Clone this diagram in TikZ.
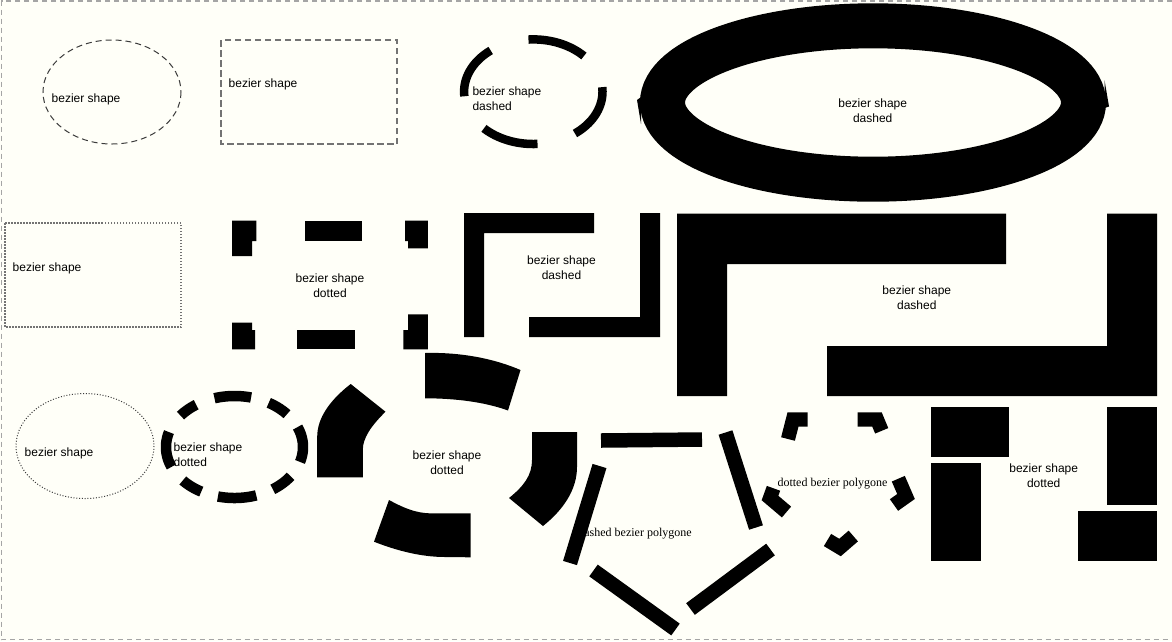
\documentclass[tikz,border=0pt]{standalone}
\usepackage{fontspec}
\setmainfont{Liberation Sans}
\newfontfamily\polyfont{Liberation Serif}
\definecolor{bgc}{RGB}{255,255,248}
\definecolor{bordc}{RGB}{165,165,165}
\definecolor{thinc}{RGB}{60,60,60}
\definecolor{grayc}{RGB}{115,115,115}
\newcommand{\myellarc}[7]{\draw[#1] plot[domain=#6:#7,samples=40,variable=\t]({#2+#4*cos(\t)},{#3+#5*sin(\t)});}
\begin{document}
\begin{tikzpicture}[x=1pt,y=-1pt,
  lbl/.style={font=\fontsize{12}{15}\selectfont,inner sep=0pt},
  plbl/.style={font=\polyfont\fontsize{12}{15}\selectfont,inner sep=0pt},
  ink/.style={fill=black,draw=none},
  dbar/.style={draw=black,line width=14.5,line cap=butt},
  dcorner/.style={draw=black,line width=14.2,line cap=butt,line join=miter},
  arcA/.style={draw=black,line width=8.5,line cap=butt},
  arcB/.style={draw=black,line width=10.5,line cap=butt}]
\useasboundingbox (0,0) rectangle (1172,641);
\fill[bgc] (0,0) rectangle (1172,641);
% page border
\draw[bordc,line width=1.2,dash pattern=on 5 off 4] (1172,1) -- (1.5,1) -- (1.5,639.5) -- (1172,639.5);

% ---------- row 1 ----------
\draw[thinc,line width=1,dash pattern=on 6 off 4] (112,92) ellipse[x radius=69, y radius=52];
\node[lbl,anchor=west] (t1) at (51.5,99.5) {bezier shape};

\draw[grayc,line width=1.6,dash pattern=on 6.5 off 3.5] (221,40) rectangle (397,144);
\node[lbl,anchor=west] (t2) at (228.5,84.5) {bezier shape};

\myellarc{arcA}{533.3}{91.7}{69.2}{52.3}{-94}{-43}
\myellarc{arcA}{533.3}{91.7}{69.2}{52.3}{-5}{53}
\myellarc{arcA}{533.3}{91.7}{69.2}{52.3}{86.5}{135.5}
\myellarc{arcA}{533.3}{91.7}{69.2}{52.3}{175}{232}
\node[lbl,anchor=west,align=left] (t3) at (472.3,98.8) {bezier shape\\dashed};

\draw[black,line width=45] (873,102.5) ellipse[x radius=210.5, y radius=76.7];
\fill[black] (641,97) -- (637,100) -- (641,124) -- cycle;
\fill[black] (1104.5,80) -- (1109,106.5) -- (1104.5,108) -- cycle;
\node[lbl,align=center,text=black] (t4) at (872.7,110.3) {bezier shape\\dashed};

% ---------- row 2 ----------
\draw[grayc,line width=1.4,dash pattern=on 1.5 off 1.5] (5,223) rectangle (181,327);
\node[lbl,anchor=west] (t5) at (12.5,268) {bezier shape};

\fill[ink] (232,220.7) -- (256.4,220.7) -- (256.4,241) -- (252,241) -- (252,256) -- (232,256) -- cycle;
\fill[ink] (304.7,220.7) rectangle (362.4,241);
\fill[ink] (405,220.7) -- (427.8,220.7) -- (427.8,248.3) -- (408,248.3) -- (408,241) -- (405,241) -- cycle;
\fill[ink] (232,322.7) -- (252,322.7) -- (252,330) -- (255,330) -- (255,349.3) -- (232,349.3) -- cycle;
\fill[ink] (297.4,330) rectangle (355.1,349.3);
\fill[ink] (408,314.3) -- (427.8,314.3) -- (427.8,349.3) -- (403.4,349.3) -- (403.4,330) -- (408,330) -- cycle;
\node[lbl,align=center] (t6) at (330,286) {bezier shape\\dotted};

\fill[ink] (464,213) -- (594,213) -- (594,233) -- (484,233) -- (484,337) -- (464,337) -- cycle;
\fill[ink] (640,213) -- (660,213) -- (660,337) -- (529,337) -- (529,317) -- (640,317) -- cycle;
\node[lbl,align=center] (t7) at (561.5,268) {bezier shape\\dashed};

\fill[ink] (677,213.5) -- (1006,213.5) -- (1006,264) -- (727,264) -- (727,396) -- (677,396) -- cycle;
\fill[ink] (1107,213.5) -- (1157,213.5) -- (1157,396) -- (827,396) -- (827,346) -- (1107,346) -- cycle;
\node[lbl,align=center] (t8) at (916.8,297.5) {bezier shape\\dashed};

% ---------- row 3 ----------
\draw[thinc,line width=1,dash pattern=on 1 off 1.8] (85,446) ellipse[x radius=69, y radius=52.5];
\node[lbl,anchor=west] (t9) at (24.5,453.3) {bezier shape};

\myellarc{arcB}{234.5}{447}{68.5}{51}{-107}{-76}
\myellarc{arcB}{234.5}{447}{68.5}{51}{-60}{-40}
\myellarc{arcB}{234.5}{447}{68.5}{51}{-23}{17}
\myellarc{arcB}{234.5}{447}{68.5}{51}{35}{56}
\myellarc{arcB}{234.5}{447}{68.5}{51}{71.5}{104}
\myellarc{arcB}{234.5}{447}{68.5}{51}{119}{139}
\myellarc{arcB}{234.5}{447}{68.5}{51}{157}{197}
\myellarc{arcB}{234.5}{447}{68.5}{51}{218}{236}
\node[lbl,anchor=west,align=left] (t10) at (173.4,454.5) {bezier shape\\dotted};

% curvy thick shape
\fill[ink] (317.2,477.3) -- (362.8,477.3) -- (362.8,450) .. controls (362.8,438) and (371,426) .. (385.5,411.7) -- (350.7,384) .. controls (330,400) and (317.2,418) .. (317.2,436.7) -- cycle;
\fill[ink] (425,353) .. controls (462,352) and (495,359) .. (520.5,370) -- (508,410.5) .. controls (485,402) and (455,398.3) .. (425,398.3) -- cycle;
\fill[ink] (532,432) -- (577,432) -- (577,467) .. controls (577,490) and (563,510) .. (543,526) -- (509,498) .. controls (524,486) and (532,475) .. (532,460) -- cycle;
\fill[ink] (470.5,513.3) -- (470.5,557.3) -- (445,557) .. controls (420,557) and (395,550) .. (374,541.7) -- (389,500) .. controls (402,507) and (415,513.3) .. (431,513.3) -- cycle;
\node[lbl,align=center] (t11) at (447,463) {bezier shape\\dotted};

% dashed bezier polygone
\node[plbl] (t12) at (635,533.3) {dashed bezier polygone};
\draw[dbar] (601,440.5) -- (702,439.5);
\draw[dbar] (725.5,432.5) -- (756,527.5);
\draw[dbar] (770.5,549.5) -- (690.5,609);
\draw[dbar] (593.5,570.5) -- (675.5,629.5);
\draw[dbar] (599.5,466) -- (570,563);

% dotted bezier polygone
\draw[dcorner] (788,439) -- (793,419.5) -- (807.7,419.5);
\draw[dcorner] (857.7,419.5) -- (877,419.5) -- (881.7,430.8);
\draw[dcorner] (898.3,478.7) -- (906,496.5) -- (894,505);
\draw[dcorner] (853.3,536) -- (840,547.5) -- (827.5,540);
\draw[dcorner] (773.5,488.3) -- (770,498) -- (786.5,512);
\node[plbl] (t13) at (832.5,484) {dotted bezier polygone};

% block rectangle
\fill[ink] (931,407) rectangle (1009,457);
\fill[ink] (931,463) rectangle (981,561);
\fill[ink] (1107,407) rectangle (1157,505);
\fill[ink] (1078,511) rectangle (1157,561);
\node[lbl,align=center] (t14) at (1043.7,476) {bezier shape\\dotted};
\end{tikzpicture}
\end{document}
